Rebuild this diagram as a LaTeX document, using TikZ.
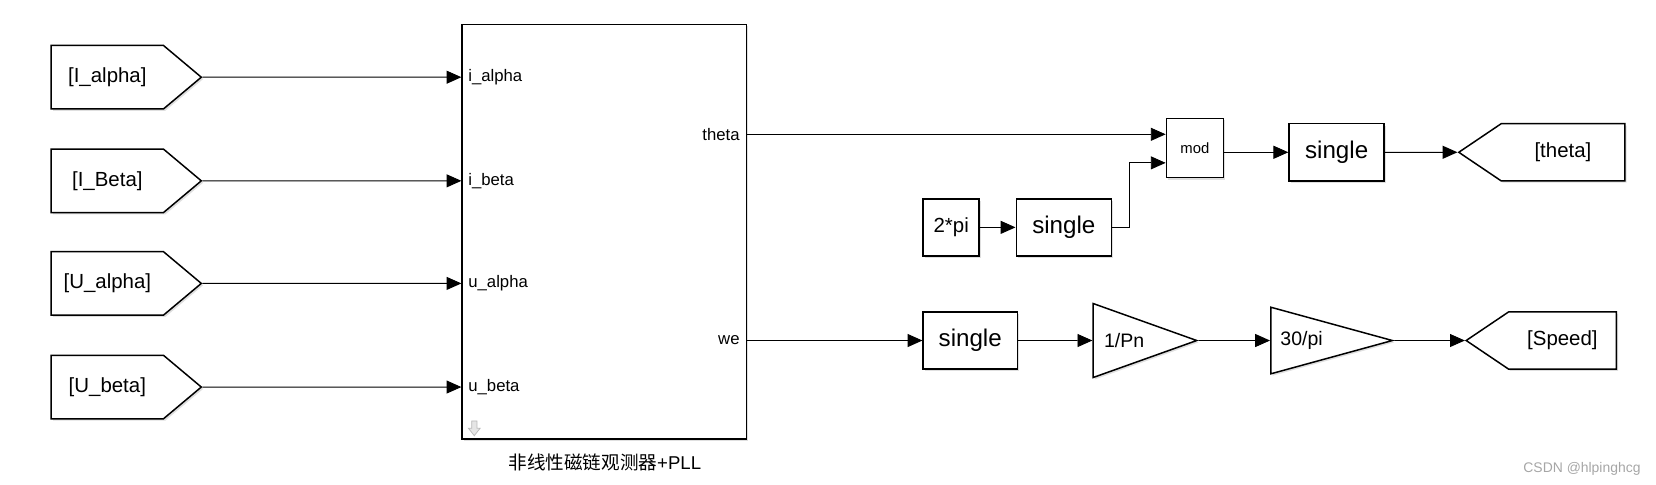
\documentclass[tikz,border=0pt]{standalone}
\usepackage{fontspec}
\setmainfont{Liberation Sans}
\newfontfamily\cjk{Noto Sans CJK SC}
\usepackage{tikz}
\usetikzlibrary{arrows.meta,shapes.geometric,shapes.symbols,shadows,calc}

\begin{document}
\begin{tikzpicture}[x=0.02cm,y=-0.02cm,->,>={Triangle[length=8pt,width=7pt]},line width=0.5pt,
	blk/.style={draw,line width=0.8pt,fill=white,inner sep=0pt,
		drop shadow={opacity=0.25,shadow xshift=1pt,shadow yshift=-1pt}},
	box/.style={blk,minimum height=1.08cm,font=\fontsize{13}{15}\selectfont},
	tagin/.style={blk,shape=signal,signal to=east,signal pointer angle=80,
		minimum width=2.84cm,minimum height=1.2cm,font=\fontsize{11}{13}\selectfont},
	tagout/.style={blk,shape=signal,signal to=west,signal pointer angle=68,
		minimum height=1.08cm,font=\fontsize{11}{13}\selectfont},
	gain/.style={blk,isosceles triangle,isosceles triangle stretches,shape border rotate=0,
		anchor=west,font=\fontsize{10.5}{12}\selectfont},
	port/.style={inner xsep=3.5pt,inner ysep=1.5pt,font=\fontsize{9}{11}\selectfont}]
		\useasboundingbox (0,0) rectangle (1566,458);

		% observer block
		\node[blk,minimum width=5.38cm,minimum height=7.84cm] (obs) at (571.5,219) {};
		\node[font=\fontsize{10}{12}\selectfont] (cap) at (572,437) {{\cjk 非线性磁链观测器}+PLL};
		\draw[-,gray!55,fill=gray!20,line width=0.4pt] (446,398) -- (451,398) -- (451,405) -- (454,405)
			-- (448.5,412) -- (443,405) -- (446,405) -- cycle;

		% inputs
		\node[tagin] (ia) at (101.5,73) {[I\_alpha]};
		\node[tagin] (ib) at (101.5,171) {[I\_Beta]};
		\node[tagin] (ua) at (101.5,268) {[U\_alpha]};
		\node[tagin] (ub) at (101.5,366) {[U\_beta]};

		\node[port,anchor=west] (pia) at (ia -| obs.west) {i\_alpha};
		\node[port,anchor=west] (pib) at (ib -| obs.west) {i\_beta};
		\node[port,anchor=west] (pua) at (ua -| obs.west) {u\_alpha};
		\node[port,anchor=west] (pub) at (ub -| obs.west) {u\_beta};
		\node[port,anchor=east] (pth) at (706,127) {theta};
		\node[port,anchor=east] (pwe) at (706,322) {we};

		\path[->] (ia) edge (pia);
		\path[->] (ib) edge (pib);
		\path[->] (ua) edge (pua);
		\path[->] (ub) edge (pub);

		% theta branch
		\node[box,minimum width=1.06cm,font=\fontsize{11}{13}\selectfont] (tpi) at (899.5,215) {2*pi};
		\node[box,minimum width=1.8cm] (sg1) at (1006,215) {single};
		\node[box,minimum width=1.08cm,minimum height=1.12cm,font=\fontsize{8}{10}\selectfont] (mod) at (1130,140) {mod};
		\node[box,minimum width=1.8cm] (sg2) at (1264,144) {single};
		\node[tagout,minimum width=3.14cm] (tth) at (1478,144) {[theta]};
		\coordinate (min1) at (mod.west |- pth);
		\coordinate (min2) at ($(mod.west)+(0,14)$);

		\path[->] (pth) edge (min1);
		\path[->] (tpi) edge (sg1);
		\draw[->] (sg1.east) -- ++(16,0) |- (min2);
		\path[->] (mod.east |- sg2) edge (sg2);
		\path[->] (sg2) edge (tth);

		% speed branch
		\node[box,minimum width=1.78cm] (sg3) at (917.5,322) {single};
		\node[gain,minimum width=1.4cm,minimum height=1.96cm] (g1) at (1033,322) {1/Pn};
		\node[gain,minimum width=1.26cm,minimum height=2.3cm] (g2) at (1201,322) {30/pi};
		\node[tagout,minimum width=2.84cm] (tsp) at (1477.5,322) {[Speed]};

		\path[->] (pwe) edge (sg3);
		\path[->] (sg3) edge (g1);
		\path[->] (g1.apex) edge (g2);
		\path[->] (g2.apex) edge (tsp);

		\node[text=gray!70,font=\fontsize{7.5}{9}\selectfont] (wm) at (1496,443) {CSDN @hlpinghcg};
		\end{tikzpicture}
\end{document}
